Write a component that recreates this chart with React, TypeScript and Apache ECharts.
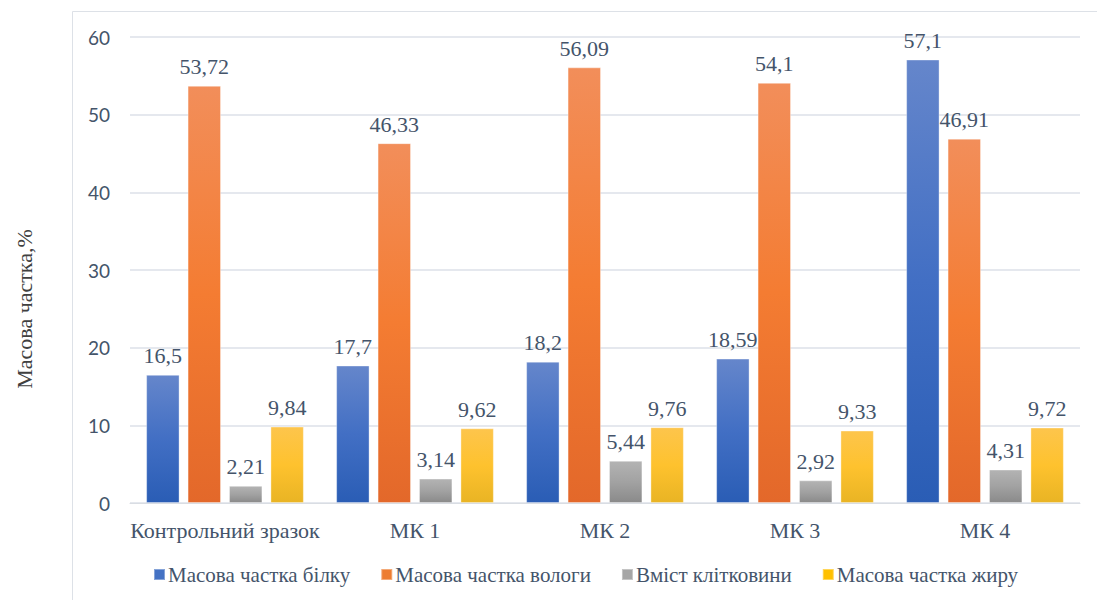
import React, { useEffect, useRef } from "react";
import * as echarts from "echarts";

// Composition of the samples, % by mass
const categories = ["Контрольний зразок", "МК 1", "МК 2", "МК 3", "МК 4"];
const seriesNames = [
  "Масова частка білку",
  "Масова частка вологи",
  "Вміст клітковини",
  "Масова частка жиру",
];
const protein = [16.5, 17.7, 18.2, 18.59, 57.1];
const moisture = [53.72, 46.33, 56.09, 54.1, 46.91];
const fiber = [2.21, 3.14, 5.44, 2.92, 4.31];
const fat = [9.84, 9.62, 9.76, 9.33, 9.72];
const yTicks = { min: 0, max: 60, interval: 10 };

// top / middle / bottom gradient stops for each series
const palettes = [
  ["#6586CB", "#426FC4", "#2A5DB5"],
  ["#F28E5A", "#F47C32", "#E3682A"],
  ["#B3B3B3", "#A2A2A2", "#8A8A8A"],
  ["#FDC54C", "#FEC22E", "#E9B424"],
];
const legendColors = ["#4472C4", "#ED7D31", "#A5A5A5", "#FFC000"];

const serif = "Liberation Serif";
const sans = "Lato";

export default function App() {
  const ref = useRef<HTMLDivElement>(null);

  useEffect(() => {
    if (!ref.current) return;
    const chart = echarts.init(ref.current, undefined, { renderer: "svg" });
    const values = [protein, moisture, fiber, fat];

    chart.setOption({
      animation: false,
      backgroundColor: "#ffffff",
      graphic: [
        {
          type: "line",
          shape: { x1: 72.5, y1: 11.5, x2: 1097, y2: 11.5 },
          style: { stroke: "#DDE1E7", lineWidth: 1 },
        },
        {
          type: "line",
          shape: { x1: 72.5, y1: 11.5, x2: 72.5, y2: 600 },
          style: { stroke: "#DDE1E7", lineWidth: 1 },
        },
        {
          type: "text",
          x: 24,
          y: 309,
          rotation: Math.PI / 2,
          style: {
            text: "Масова частка,%",
            fontFamily: serif,
            fontSize: 22,
            fill: "#404040",
            align: "center",
            verticalAlign: "middle",
          },
        },
      ],
      grid: { left: 130, right: 17, top: 37, bottom: 97 },
      legend: {
        top: 564,
        left: 153,
        padding: 0,
        itemWidth: 11,
        itemHeight: 11,
        itemGap: 30,
        icon: "rect",
        textStyle: { fontFamily: serif, fontSize: 21, color: "#44546A", padding: [0, 0, 0, -2] },
        data: seriesNames.map((n, i) => ({ name: n, itemStyle: { color: legendColors[i] } })),
      },
      xAxis: {
        type: "category",
        data: categories,
        axisTick: { show: false },
        axisLine: { lineStyle: { color: "#D9DDE3", width: 1 } },
        axisLabel: { interval: 0, fontFamily: serif, fontSize: 22, color: "#44546A", margin: 16 },
      },
      yAxis: {
        type: "value",
        min: yTicks.min,
        max: yTicks.max,
        interval: yTicks.interval,
        axisLine: { show: false },
        axisTick: { show: false },
        splitLine: { lineStyle: { color: "#DDE1E8", width: 1.5 } },
        axisLabel: { fontFamily: sans, fontSize: 19, color: "#44546A", margin: 20 },
      },
      series: values.map((data, i) => ({
        type: "bar",
        name: seriesNames[i],
        data,
        barGap: "24%",
        barCategoryGap: "17%",
        itemStyle: {
          color: new echarts.graphic.LinearGradient(0, 0, 0, 1, [
            { offset: 0, color: palettes[i][0] },
            { offset: 0.5, color: palettes[i][1] },
            { offset: 1, color: palettes[i][2] },
          ]),
          borderColor: "rgba(255,255,255,0.35)",
          borderWidth: 1,
        },
        label: {
          show: true,
          position: "top",
          distance: 8,
          fontFamily: serif,
          fontSize: 22,
          color: "#44546A",
          formatter: (p: any) => String(p.value).replace(".", ","),
        },
      })),
    });

    return () => chart.dispose();
  }, []);

  return (
    <div
      ref={ref}
      style={{ position: "absolute", left: 0, top: 0, width: 1097, height: 600 }}
    />
  );
}
